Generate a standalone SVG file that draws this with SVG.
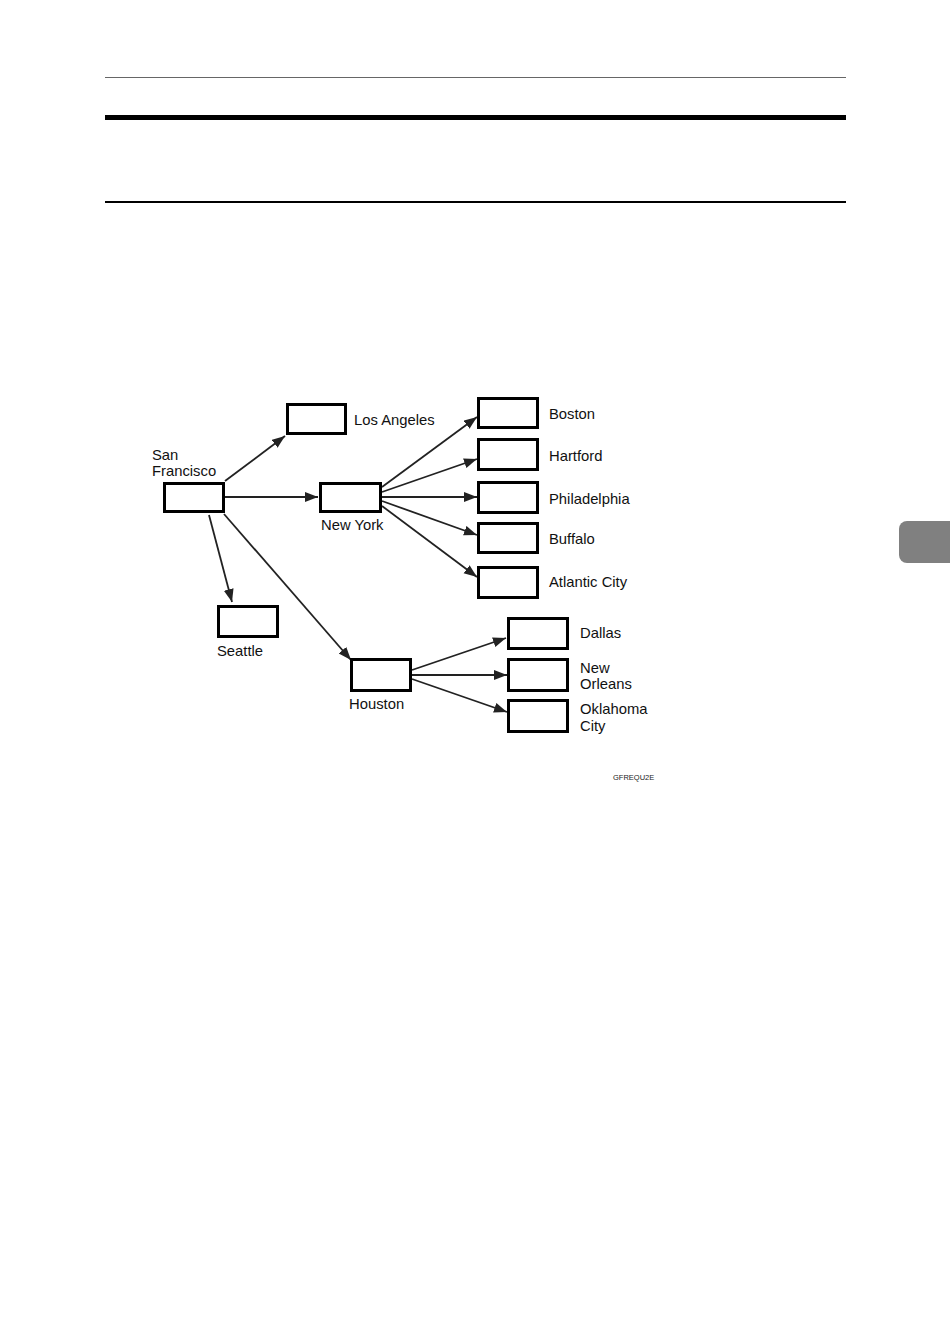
<svg xmlns="http://www.w3.org/2000/svg" width="950" height="1342" viewBox="0 0 950 1342">
<style>
.box{fill:#fff;stroke:#000;stroke-width:3}
.lbl{font-family:"Liberation Sans",Arial,sans-serif;font-size:14.8px;fill:#111}
.con{stroke:#222;stroke-width:1.8;fill:none;marker-end:url(#ah)}
</style>
<defs>
<marker id="ah" markerUnits="userSpaceOnUse" markerWidth="14" markerHeight="11" refX="13" refY="5" orient="auto">
<path d="M0,0 L13,5 L0,10 Z" fill="#222"/>
</marker>
</defs>
<rect width="950" height="1342" fill="#fff"/>
<g id="page">
<line x1="105" y1="77.5" x2="846" y2="77.5" stroke="#666" stroke-width="1"/>
<rect x="105" y="115" width="741" height="5" fill="#000"/>
<rect x="105" y="201" width="741" height="2" fill="#000"/>
<rect x="899" y="521" width="60" height="42" rx="8" fill="#808080"/>
</g>
<g id="connectors">
<line class="con" x1="225" y1="481" x2="285" y2="436"/>
<line class="con" x1="225" y1="497" x2="318" y2="497"/>
<line class="con" x1="209" y1="515" x2="232" y2="602"/>
<line class="con" x1="224" y1="514" x2="351" y2="660"/>
<line class="con" x1="382" y1="487" x2="477" y2="417"/>
<line class="con" x1="382" y1="492" x2="477" y2="459"/>
<line class="con" x1="382" y1="497" x2="477" y2="497"/>
<line class="con" x1="382" y1="501" x2="477" y2="535"/>
<line class="con" x1="382" y1="506" x2="477" y2="577"/>
<line class="con" x1="412" y1="670" x2="506" y2="638"/>
<line class="con" x1="412" y1="675" x2="507" y2="675"/>
<line class="con" x1="412" y1="679" x2="507" y2="712"/>
</g>
<g id="san-francisco">
<rect class="box" x="164.5" y="483.5" width="59" height="28"/>
<text class="lbl" x="152" y="460">San</text>
<text class="lbl" x="152" y="476">Francisco</text>
</g>
<g id="los-angeles">
<rect class="box" x="287.5" y="404.5" width="58" height="29"/>
<text class="lbl" x="354" y="425">Los Angeles</text>
</g>
<g id="new-york">
<rect class="box" x="320.5" y="483.5" width="60" height="28"/>
<text class="lbl" x="321" y="530">New York</text>
</g>
<g id="seattle">
<rect class="box" x="218.5" y="606.5" width="59" height="30"/>
<text class="lbl" x="217" y="656">Seattle</text>
</g>
<g id="houston">
<rect class="box" x="351.5" y="659.5" width="59" height="31"/>
<text class="lbl" x="349" y="709">Houston</text>
</g>
<g id="boston">
<rect class="box" x="478.5" y="398.5" width="59" height="29"/>
<text class="lbl" x="549" y="419">Boston</text>
</g>
<g id="hartford">
<rect class="box" x="478.5" y="439.5" width="59" height="30"/>
<text class="lbl" x="549" y="461">Hartford</text>
</g>
<g id="philadelphia">
<rect class="box" x="478.5" y="482.5" width="59" height="30"/>
<text class="lbl" x="549" y="504">Philadelphia</text>
</g>
<g id="buffalo">
<rect class="box" x="478.5" y="523.5" width="59" height="29"/>
<text class="lbl" x="549" y="544">Buffalo</text>
</g>
<g id="atlantic-city">
<rect class="box" x="478.5" y="567.5" width="59" height="30"/>
<text class="lbl" x="549" y="587">Atlantic City</text>
</g>
<g id="dallas">
<rect class="box" x="508.5" y="618.5" width="59" height="30"/>
<text class="lbl" x="580" y="638">Dallas</text>
</g>
<g id="new-orleans">
<rect class="box" x="508.5" y="659.5" width="59" height="31"/>
<text class="lbl" x="580" y="673">New</text>
<text class="lbl" x="580" y="689">Orleans</text>
</g>
<g id="oklahoma-city">
<rect class="box" x="508.5" y="700.5" width="59" height="31"/>
<text class="lbl" x="580" y="714">Oklahoma</text>
<text class="lbl" x="580" y="731">City</text>
</g>
<text x="613" y="780" font-family="'Liberation Sans',Arial,sans-serif" font-size="7.5" fill="#222">GFREQU2E</text>
</svg>
